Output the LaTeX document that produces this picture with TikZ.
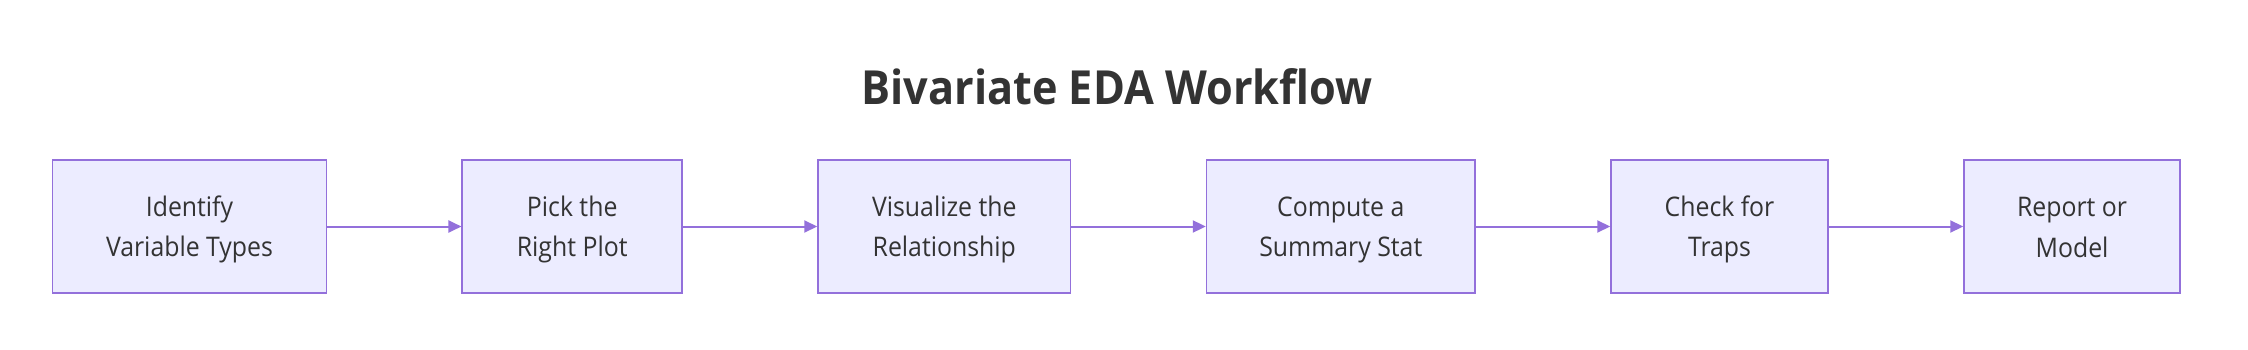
\documentclass[tikz,border=0pt]{standalone}
\usepackage{fontspec}
\setmainfont{Open Sans}[FakeStretch=0.92]
\usetikzlibrary{arrows.meta}
\definecolor{boxfill}{HTML}{ECECFF}
\definecolor{boxline}{HTML}{9370DB}
\definecolor{txt}{HTML}{333333}
\newcommand{\lstrut}{\rule[-5pt]{0pt}{31pt}}
\tikzset{
  stepbox/.style={draw=boxline, fill=boxfill, line width=1.5pt, minimum height=133pt,
    inner sep=0pt, align=center, text=txt, font=\fontsize{27}{40.5}\selectfont},
  flow/.style={draw=boxline, line width=2pt, -{Triangle[length=13pt,width=12pt]}}
}
\begin{document}
\begin{tikzpicture}[x=1pt,y=-1pt]
\useasboundingbox (0,0) rectangle (2248,350);
\node[anchor=base, text=txt, font=\bfseries\fontsize{47}{50}\selectfont] (title) at (1117,105) {Bivariate EDA Workflow};
\node[stepbox, minimum width=273.7pt] (a) at (189.5,226.5) {\lstrut Identify\\\lstrut Variable Types};
\node[stepbox, minimum width=220pt] (b) at (572.2,226.5) {\lstrut Pick the\\\lstrut Right Plot};
\node[stepbox, minimum width=252.6pt] (c) at (944.3,226.5) {\lstrut Visualize the\\\lstrut Relationship};
\node[stepbox, minimum width=268.5pt] (d) at (1340.8,226.5) {\lstrut Compute a\\\lstrut Summary Stat};
\node[stepbox, minimum width=217pt] (e) at (1719.5,226.5) {\lstrut Check for\\\lstrut Traps};
\node[stepbox, minimum width=216pt] (f) at (2072,226.5) {\lstrut Report or\\\lstrut Model};
\draw[flow] (a) -- (b);
\draw[flow] (b) -- (c);
\draw[flow] (c) -- (d);
\draw[flow] (d) -- (e);
\draw[flow] (e) -- (f);
\end{tikzpicture}
\end{document}
